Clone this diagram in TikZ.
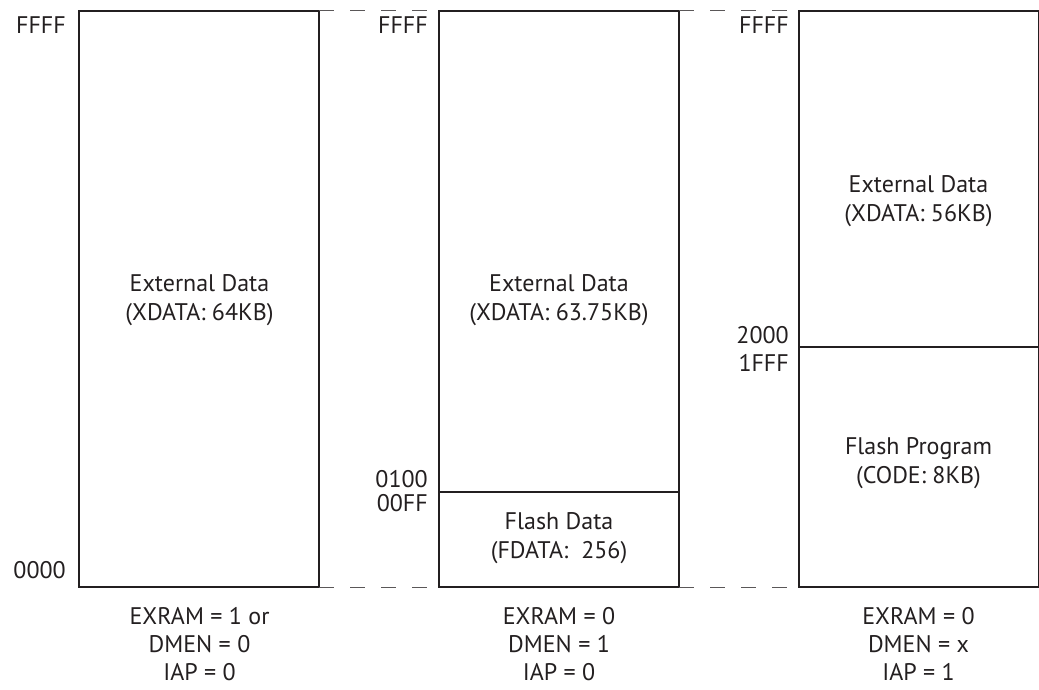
\documentclass[tikz,border=0pt]{standalone}
\usepackage{fontspec}
\setmainfont{PT Sans}
\usetikzlibrary{positioning}
\definecolor{ink}{HTML}{231F20}

\begin{document}
\begin{tikzpicture}[x=1pt, y=-1pt,
    membox/.style={draw=ink, line width=2pt, minimum width=240pt, inner sep=0pt,
        outer sep=0pt, anchor=north west},
    addr/.style={text=ink, font=\fontsize{24}{28}\selectfont, inner sep=0pt, anchor=base east},
    region/.style={text=ink, font=\fontsize{24}{29}\selectfont, inner sep=0pt, align=center},
    modebits/.style={text=ink, font=\fontsize{24}{28}\selectfont, inner sep=0pt, align=center, anchor=north},
    gap/.style={draw=ink!75, line width=1pt, dash pattern=on 15pt off 16pt}]
    \useasboundingbox (0,0) rectangle (1039,690);

    % Memory boxes
    \node[membox, minimum height=576pt] (boxA) at (79,11) {};
    \node[membox, minimum height=481pt] (boxB) at (439,11) {};
    \node[membox, minimum height=95pt, below=0pt of boxB] (flashB) {};
    \node[membox, minimum height=336pt] (boxC) at (799,11) {};
    \node[membox, minimum height=240pt, below=0pt of boxC] (progC) {};

    % Dashed links between maps
    \draw[gap] (boxA.north east) -- (boxB.north west);
    \draw[gap] (boxB.north east) -- (boxC.north west);
    \draw[gap] (boxA.south east) -- (flashB.south west);
    \draw[gap] (flashB.south east) -- (progC.south west);

    % Region texts
    \node[region] (xdA) at (199.5,300) {External Data\\(XDATA: 64KB)};
    \node[region] (xdB) at (559,300) {External Data\\(XDATA: 63.75KB)};
    \node[region] (fdB) at (559,538) {Flash Data\\(FDATA:\ \ 256)};
    \node[region] (xdC) at (918.5,201) {External Data\\(XDATA: 56KB)};
    \node[region] (cdC) at (918.5,463) {Flash Program\\(CODE: 8KB)};

    % Addresses
    \node[addr] (topA) at (66,34) {FFFF};
    \node[addr] (botA) at (66,578) {0000};
    \node[addr] (topB) at (428,34) {FFFF};
    \node[addr] (hiB) at (428,487) {0100};
    \node[addr] (loB) at (428,511) {00FF};
    \node[addr] (topC) at (789,34) {FFFF};
    \node[addr] (hiC) at (789,343) {2000};
    \node[addr] (loC) at (789,371) {1FFF};

    % Mode bits under each map
    \node[modebits] (modeA) at (199.5,607) {EXRAM = 1 or\\DMEN = 0\\IAP = 0};
    \node[modebits] (modeB) at (559,607) {EXRAM = 0\\DMEN = 1\\IAP = 0};
    \node[modebits] (modeC) at (918.5,607) {EXRAM = 0\\DMEN = x\\IAP = 1};
\end{tikzpicture}
\end{document}
